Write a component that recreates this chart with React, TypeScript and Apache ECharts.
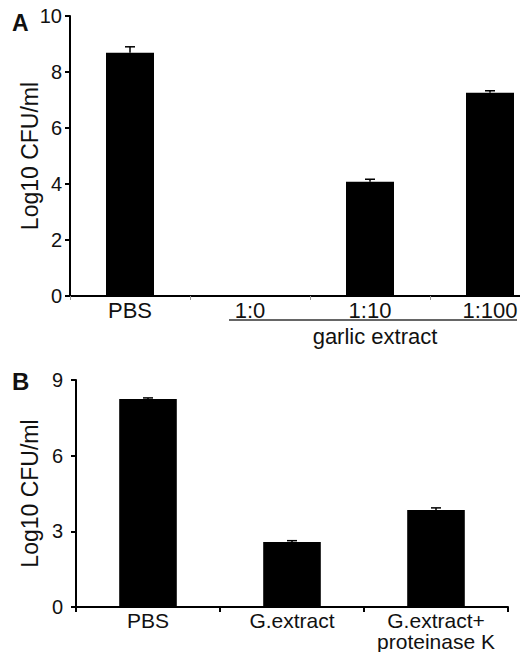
import React, { useEffect, useRef } from "react";
import * as echarts from "echarts";

const catsA = ["PBS", "1:0", "1:10", "1:100"];
const valsA = [8.69, 0, 4.08, 7.26];
const errA = [8.9, 0, 4.17, 7.33];
const ticksA = { min: 0, max: 10, interval: 2 };

const catsB = ["PBS", "G.extract", "G.extract+\nproteinase K"];
const valsB = [8.25, 2.58, 3.85];
const errB = [8.29, 2.63, 3.93];
const ticksB = { min: 0, max: 9, interval: 3 };

const FONT = "Liberation Sans, Arial, sans-serif";

function errSeries(xi: number, vals: number[], errs: number[]) {
  return {
    type: "custom",
    xAxisIndex: xi,
    yAxisIndex: xi,
    z: 5,
    data: vals.map((v, i) => [i, v, errs[i]]),
    renderItem: (params: any, api: any) => {
      const i = api.value(0);
      const v = api.value(1);
      const e = api.value(2);
      if (e <= v) return { type: "group", children: [] };
      const p0 = api.coord([i, v]);
      const p1 = api.coord([i, e]);
      const style = { stroke: "#000", lineWidth: 1.5 };
      return {
        type: "group",
        children: [
          { type: "line", shape: { x1: p0[0], y1: p0[1], x2: p1[0], y2: p1[1] }, style },
          { type: "line", shape: { x1: p1[0] - 5, y1: p1[1], x2: p1[0] + 5, y2: p1[1] }, style },
        ],
      };
    },
  };
}

export default function App() {
  const ref = useRef<HTMLDivElement>(null);
  useEffect(() => {
    if (!ref.current) return;
    const chart = echarts.init(ref.current, null, { renderer: "svg" });
    const axisLine = { show: true, lineStyle: { color: "#000", width: 2 } };
    const yCommon = (gap: number, margin: number) => ({
      type: "value",
      name: "Log10 CFU/ml",
      nameLocation: "middle",
      nameRotate: 90,
      nameGap: gap,
      nameMoveOverlap: false,
      nameTextStyle: { fontFamily: FONT, fontSize: 23, color: "#111" },
      axisLine,
      axisTick: { show: true, inside: false, length: 5, lineStyle: { color: "#000", width: 2 } },
      axisLabel: { fontFamily: FONT, fontSize: 20, color: "#111", margin },
      splitLine: { show: false },
    });
    chart.setOption({
      animation: false,
      backgroundColor: "#fff",
      grid: [
        { left: 70, top: 16, width: 480, height: 280, outerBoundsMode: "none", containLabel: false },
        { left: 76, top: 380, width: 432, height: 227, outerBoundsMode: "none", containLabel: false },
      ],
      xAxis: [
        {
          type: "category",
          gridIndex: 0,
          data: catsA,
          axisLine,
          axisTick: { show: true, length: 4, lineStyle: { color: "#999", width: 1 } },
          axisLabel: { fontFamily: FONT, fontSize: 22, color: "#111", margin: 3, interval: 0 },
        },
        {
          type: "category",
          gridIndex: 1,
          data: catsB,
          axisLine,
          axisTick: { show: true, length: 5, lineStyle: { color: "#000", width: 2 } },
          axisLabel: {
            fontFamily: FONT,
            fontSize: 21,
            color: "#111",
            margin: 3,
            lineHeight: 21,
            verticalAlign: "top",
            interval: 0,
          },
        },
      ],
      yAxis: [
        { ...yCommon(29, 8), gridIndex: 0, ...ticksA },
        { ...yCommon(35, 13), gridIndex: 1, ...ticksB },
      ],
      series: [
        {
          type: "bar",
          xAxisIndex: 0,
          yAxisIndex: 0,
          data: valsA,
          barWidth: "40%",
          itemStyle: { color: "#000" },
        },
        errSeries(0, valsA, errA),
        {
          type: "bar",
          xAxisIndex: 1,
          yAxisIndex: 1,
          data: valsB,
          barWidth: "40%",
          itemStyle: { color: "#000" },
        },
        errSeries(1, valsB, errB),
      ],
      graphic: [
        { type: "text", left: 12, top: 11, style: { text: "A", fontFamily: FONT, fontSize: 23, fontWeight: "bold", fill: "#111" } },
        { type: "text", left: 12, top: 369, style: { text: "B", fontFamily: FONT, fontSize: 24, fontWeight: "bold", fill: "#111" } },
        { type: "line", shape: { x1: 229, y1: 320, x2: 517, y2: 320 }, style: { stroke: "#333", lineWidth: 1.5 } },
        {
          type: "text",
          x: 375,
          y: 336,
          style: { text: "garlic extract", fontFamily: FONT, fontSize: 22, fill: "#111", align: "center", verticalAlign: "middle" },
        },
      ],
    });
    return () => chart.dispose();
  }, []);
  return (
    <div
      ref={ref}
      style={{ position: "fixed", left: 0, top: 0, width: 520, height: 652, background: "#fff" }}
    />
  );
}
